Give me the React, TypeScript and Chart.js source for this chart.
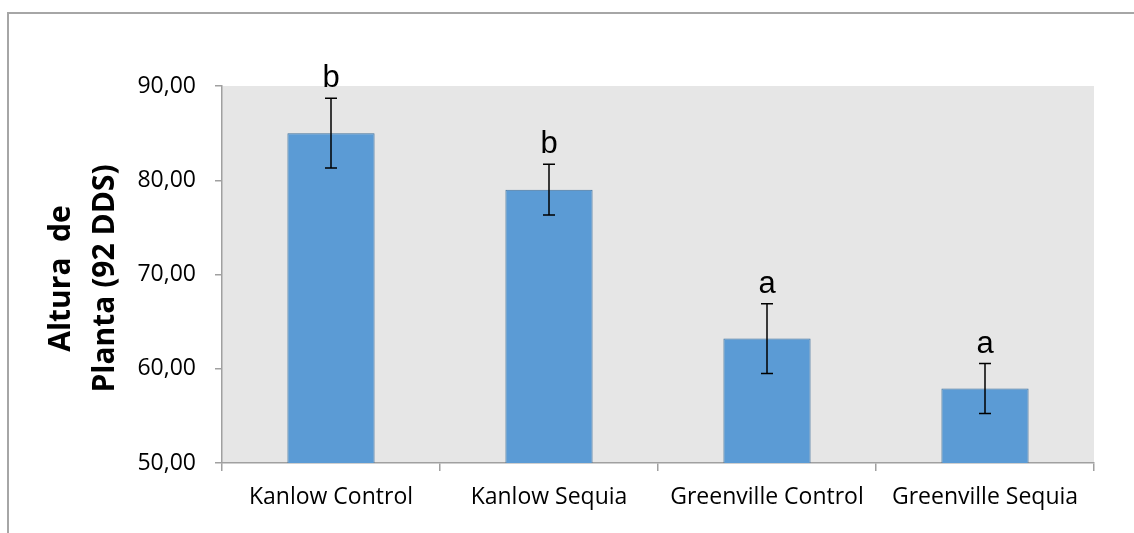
import React, { useEffect, useRef } from "react";
import { Chart, registerables } from "chart.js";

Chart.register(...registerables);

const categories = ["Kanlow Control", "Kanlow Sequia", "Greenville Control", "Greenville Sequia"];
const means = [85.0, 79.0, 63.2, 57.9];
const errors = [3.7, 2.7, 3.7, 2.65];
const letters = ["b", "b", "a", "a"];
const yMin = 50;
const yMax = 90;
const yStep = 10;
const yTitle = ["Altura  de", "Planta (92 DDS)"];

const AXIS_GRAY = "#A0A0A0";

const decorPlugin = {
  id: "decor",
  beforeDraw(chart: any) {
    const { ctx, chartArea, width, height } = chart;
    ctx.save();
    ctx.fillStyle = "#ffffff";
    ctx.fillRect(0, 0, width, height);
    // outer frame (top and left visible)
    ctx.strokeStyle = "#A6A6A6";
    ctx.lineWidth = 2;
    ctx.beginPath();
    ctx.moveTo(8, height + 5);
    ctx.lineTo(8, 13);
    ctx.lineTo(width + 5, 13);
    ctx.stroke();
    // plot background
    ctx.fillStyle = "#E6E6E6";
    ctx.fillRect(chartArea.left, chartArea.top, chartArea.right - chartArea.left, chartArea.bottom - chartArea.top);
    ctx.restore();
  },
  afterDatasetsDraw(chart: any) {
    const { ctx } = chart;
    const meta = chart.getDatasetMeta(0);
    const yScale = chart.scales.y;
    ctx.save();
    ctx.strokeStyle = "#000000";
    ctx.lineWidth = 1.5;
    meta.data.forEach((bar: any, i: number) => {
      const x = bar.x;
      const yTop = yScale.getPixelForValue(means[i] + errors[i]);
      const yBot = yScale.getPixelForValue(means[i] - errors[i]);
      ctx.beginPath();
      ctx.moveTo(x, yTop);
      ctx.lineTo(x, yBot);
      ctx.moveTo(x - 6, yTop);
      ctx.lineTo(x + 6, yTop);
      ctx.moveTo(x - 6, yBot);
      ctx.lineTo(x + 6, yBot);
      ctx.stroke();
      ctx.fillStyle = "#000000";
      ctx.font = "31px 'Liberation Sans', Arial, sans-serif";
      ctx.textAlign = "center";
      ctx.textBaseline = "alphabetic";
      ctx.fillText(letters[i], x, yTop - 11);
    });
    // y-axis title, two lines, rotated
    const area = chart.chartArea;
    const cy = (area.top + area.bottom) / 2 + 4;
    ctx.font = "bold 30px 'Open Sans', sans-serif";
    ctx.fillStyle = "#000000";
    ctx.textAlign = "center";
    ctx.textBaseline = "alphabetic";
    const baselines = [70, 114];
    yTitle.forEach((line, i) => {
      ctx.save();
      ctx.translate(baselines[i], cy);
      ctx.rotate(-Math.PI / 2);
      ctx.fillText(line, 0, 0);
      ctx.restore();
    });
    ctx.restore();
  },
};

export default function App() {
  const canvasRef = useRef<HTMLCanvasElement | null>(null);

  useEffect(() => {
    if (!canvasRef.current) return;
    const chart = new Chart(canvasRef.current, {
      type: "bar",
      data: {
        labels: categories,
        datasets: [
          {
            data: means,
            backgroundColor: "#5B9BD5",
            borderColor: "#41719C",
            borderWidth: 1,
            barPercentage: 0.4,
            categoryPercentage: 1.0,
          },
        ],
      },
      options: {
        animation: false,
        responsive: true,
        maintainAspectRatio: false,
        layout: { padding: { top: 86, right: 40, left: 0, bottom: 0 } },
        plugins: {
          legend: { display: false },
          tooltip: { enabled: false },
          title: { display: false },
        },
        scales: {
          x: {
            offset: true,
            grid: {
              offset: true,
              drawOnChartArea: false,
              drawTicks: true,
              tickLength: 8,
              color: AXIS_GRAY,
              lineWidth: 1.5,
            },
            border: { display: true, color: AXIS_GRAY, width: 1.5 },
            ticks: {
              color: "#000000",
              padding: 13,
              maxRotation: 0,
              autoSkip: false,
              font: { family: "'Open Sans', sans-serif", size: 23 },
            },
            afterFit(scale: any) {
              scale.height = 70;
            },
          },
          y: {
            min: yMin,
            max: yMax,
            grid: {
              drawOnChartArea: false,
              drawTicks: true,
              tickLength: 7,
              color: AXIS_GRAY,
              lineWidth: 1.5,
            },
            border: { display: true, color: AXIS_GRAY, width: 1.5 },
            ticks: {
              stepSize: yStep,
              color: "#000000",
              padding: 19,
              font: { family: "'Open Sans', sans-serif", size: 23 },
              callback: (v: any) => Number(v).toFixed(2).replace(".", ","),
            },
            afterFit(scale: any) {
              scale.width = 222;
            },
          },
        },
      },
      plugins: [decorPlugin],
    });
    return () => chart.destroy();
  }, []);

  return (
    <div style={{ position: "absolute", left: 0, top: 0, width: 1134, height: 533 }}>
      <canvas ref={canvasRef} />
    </div>
  );
}
